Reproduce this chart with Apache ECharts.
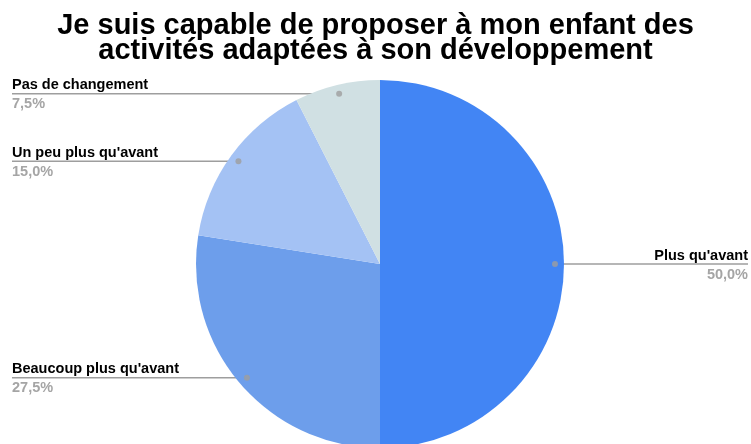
<!DOCTYPE html>
<html>
<head>
<meta charset="utf-8">
<script src="https://cdn.jsdelivr.net/npm/echarts@6/dist/echarts.min.js"></script>
<style>
html,body{margin:0;padding:0;background:#fff;}
#main{width:751px;height:444px;}
</style>
</head>
<body>
<div id="main"></div>
<script>
const titleText = "Je suis capable de proposer à mon enfant des\nactivités adaptées à son développement";
const categories = ["Plus qu'avant", "Beaucoup plus qu'avant", "Un peu plus qu'avant", "Pas de changement"];
const values = [50.0, 27.5, 15.0, 7.5];
const colors = ['#4285f4', '#6d9eeb', '#a4c2f4', '#d0e0e3'];

const CX = 380, CY = 264, R = 184, DOT_FRAC = 0.951;
const LEFT_X = 12, RIGHT_X = 748;
const FONT = '"Liberation Sans", Arial, sans-serif';

const total = values.reduce((a, b) => a + b, 0);
const mids = [];
let acc = 0;
values.forEach(v => { mids.push((acc + v / 2) / total * 100); acc += v; });

const chart = echarts.init(document.getElementById('main'), null, { renderer: 'canvas' });

const fmt = v => v.toFixed(1).replace('.', ',') + '%';

chart.setOption({
  animation: false,
  backgroundColor: '#ffffff',
  title: {
    text: titleText,
    left: 'center',
    top: 13,
    padding: 0,
    textStyle: {
      fontFamily: FONT, fontSize: 29, fontWeight: 'bold', color: '#000', lineHeight: 25.5
    }
  },
  polar: { center: [CX, CY], radius: R },
  angleAxis: { type: 'value', min: 0, max: 100, startAngle: 90, clockwise: true, show: false },
  radiusAxis: { type: 'value', min: 0, max: 1, show: false },
  series: [
    {
      type: 'pie',
      center: [CX, CY],
      radius: R,
      startAngle: 90,
      clockwise: true,
      silent: true,
      z: 2,
      data: categories.map((c, i) => ({ name: c, value: values[i], itemStyle: { color: colors[i] } })),
      itemStyle: { borderWidth: 0 },
      label: {
        show: true,
        position: 'outside',
        formatter: p => '{n|' + p.name + '}\n{v|' + fmt(p.value) + '}',
        rich: {
          n: { fontFamily: FONT, fontSize: 14.5, fontWeight: 'bold', color: '#000', lineHeight: 21 },
          v: { fontFamily: FONT, fontSize: 14.5, fontWeight: 'bold', color: '#a5a5a5', lineHeight: 17 }
        }
      },
      labelLine: { show: true, length: 10, length2: 10, smooth: false,
        lineStyle: { color: '#9e9e9e', width: 1.5 } },
      labelLayout: function (params) {
        const p0 = params.labelLinePoints ? params.labelLinePoints[0] : [CX, CY];
        const dx = CX + (p0[0] - CX) * DOT_FRAC;
        const dy = CY + (p0[1] - CY) * DOT_FRAC;
        const isLeft = dx < CX - 1;
        const ex = isLeft ? LEFT_X : RIGHT_X;
        return {
          x: ex, y: dy,
          align: isLeft ? 'left' : 'right',
          verticalAlign: 'middle',
          labelLinePoints: [[dx, dy], [ex, dy]]
        };
      }
    },
    {
      type: 'scatter',
      coordinateSystem: 'polar',
      silent: true,
      z: 5,
      symbol: 'circle',
      symbolSize: 6,
      itemStyle: { color: '#9e9e9e' },
      data: mids.map(m => [DOT_FRAC, m])
    }
  ]
});
</script>
</body>
</html>
